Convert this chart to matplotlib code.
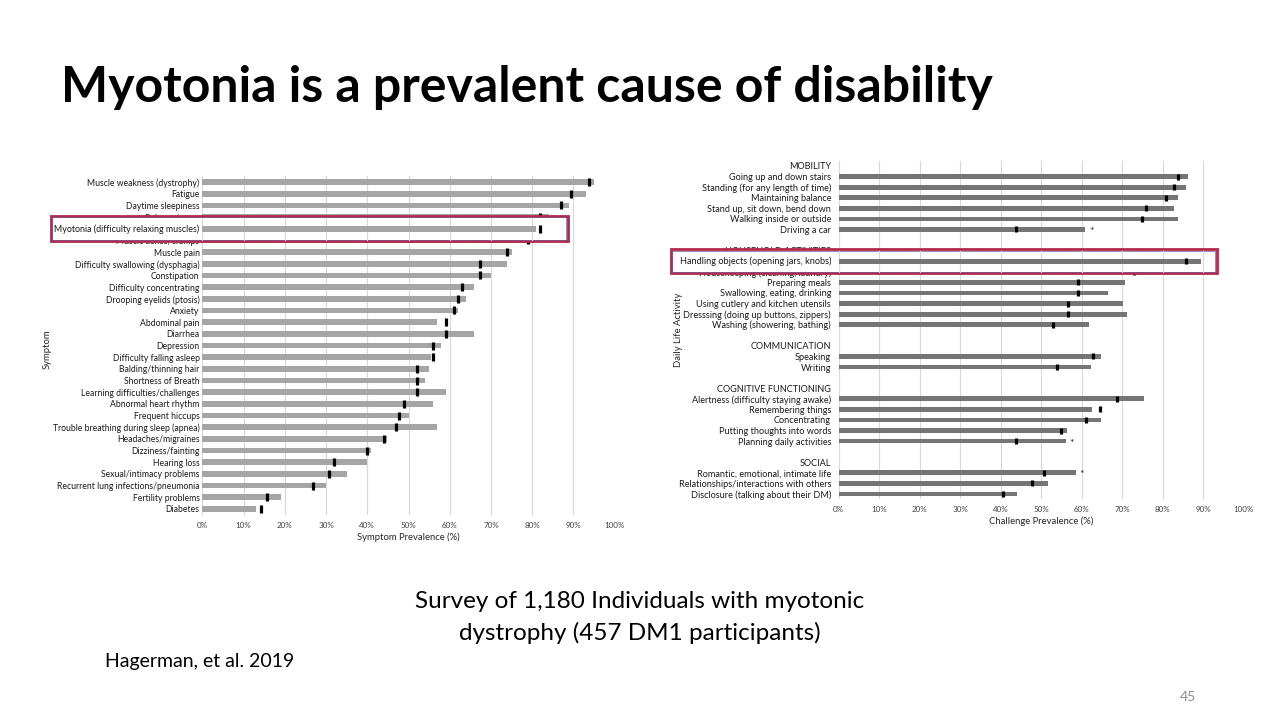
import matplotlib.pyplot as plt
from matplotlib.patches import Rectangle

plt.rcParams['font.family'] = ['Lato', 'DejaVu Sans']

# left chart: symptoms (DM1 bar, black marker)
symptoms = ["Muscle weakness (dystrophy)", "Fatigue", "Daytime sleepiness", "Balance issues",
            "Myotonia (difficulty relaxing muscles)", "Muscle aches, cramps", "Muscle pain",
            "Difficulty swallowing (dysphagia)", "Constipation", "Difficulty concentrating",
            "Drooping eyelids (ptosis)", "Anxiety", "Abdominal pain", "Diarrhea", "Depression",
            "Difficulty falling asleep", "Balding/thinning hair", "Shortness of Breath",
            "Learning difficulties/challenges", "Abnormal heart rhythm", "Frequent hiccups",
            "Trouble breathing during sleep (apnea)", "Headaches/migraines", "Dizziness/fainting",
            "Hearing loss", "Sexual/intimacy problems", "Recurrent lung infections/pneumonia",
            "Fertility problems", "Diabetes"]
sym_bar = [95.0, 93.0, 89.0, 84.0, 81.0, 79.0, 75.1, 74.0, 70.0, 66.0, 64.0, 62.0, 57.0, 66.0,
           58.0, 55.5, 55.0, 54.0, 59.0, 56.0, 50.0, 57.0, 44.9, 41.0, 40.0, 35.0, 29.9, 19.0, 13.0]
sym_mark = [93.8, 89.5, 86.9, 81.9, 81.9, 79.0, 73.8, 67.4, 67.4, 62.9, 62.1, 61.1, 59.0, 59.0,
            56.0, 56.0, 52.0, 52.0, 52.0, 48.9, 47.8, 47.0, 44.1, 40.0, 31.9, 30.8, 26.8, 15.6, 14.2]

# right chart: daily life activities (None = group header row)
activities = ["MOBILITY", "Going up and down stairs", "Standing (for any length of time)",
              "Maintaining balance", "Stand up, sit down, bend down", "Walking inside or outside",
              "Driving a car", "", "HOUSEHOLD ACTIVITIES", "Handling objects (opening jars, knobs)",
              "Housekeeping (cleaning, laundry)", "Preparing meals", "Swallowing, eating, drinking",
              "Using cutlery and kitchen utensils", "Dresssing (doing up buttons, zippers)",
              "Washing (showering, bathing)", "", "COMMUNICATION", "Speaking", "Writing", "",
              "COGNITIVE FUNCTIONING", "Alertness (difficulty staying awake)", "Remembering things",
              "Concentrating", "Putting thoughts into words", "Planning daily activities", "",
              "SOCIAL", "Romantic, emotional, intimate life", "Relationships/interactions with others",
              "Disclosure (talking about their DM)"]
act_bar = [None, 86.2, 85.7, 83.7, 82.9, 83.7, 60.9, None, None, 89.5, 78.6, 70.8, 66.5, 70.3,
           71.3, 61.9, None, None, 64.8, 62.3, None, None, 75.5, 62.6, 64.8, 56.4, 56.1, None,
           None, 58.6, 51.8, 44.1]
act_mark = [None, 83.8, 82.8, 80.8, 75.8, 75.0, 43.7, None, None, 85.7, 72.8, 59.0, 59.0, 56.7,
            56.6, 53.0, None, None, 62.9, 53.9, None, None, 68.7, 64.4, 61.0, 54.9, 43.9, None,
            None, 50.6, 47.7, 40.5]
act_star = ["Driving a car", "Planning daily activities", "Romantic, emotional, intimate life"]

ticks = list(range(0, 101, 10))
tick_labels = [str(t) + "%" for t in ticks]
red = '#B3294B'

fig = plt.figure(figsize=(12.8, 7.2), dpi=100)

fig.text(61/1280, 1 - 87/720, "Myotonia is a prevalent cause of disability", fontsize=36,
         fontweight='bold', va='center', ha='left')
fig.text(0.5, 1 - 601/720, "Survey of 1,180 Individuals with myotonic", fontsize=17.5,
         ha='center', va='center')
fig.text(0.5, 1 - 633/720, "dystrophy (457 DM1 participants)", fontsize=17.5, ha='center', va='center')
fig.text(105/1280, 1 - 662/720, "Hagerman, et al. 2019", fontsize=14, ha='left', va='center')
fig.text(1188/1280, 1 - 697/720, "45", fontsize=10, color='#8C8C8C', ha='center', va='center')


def style(ax, n, labels, fs, pad):
    ax.set_xlim(0, 100)
    ax.set_ylim(n - 0.5, -0.5)
    for s in ax.spines.values():
        s.set_visible(False)
    ax.set_xticks(ticks)
    ax.set_xticklabels(tick_labels, fontsize=5.8, color='#404040')
    ax.set_yticks(range(n))
    ax.set_yticklabels(labels, fontsize=fs, color='#1A1A1A')
    ax.tick_params(length=0)
    ax.tick_params(axis='y', pad=pad)
    ax.tick_params(axis='x', pad=5)
    for t in ticks:
        ax.axvline(t, color='#D9D9D9', lw=0.8, zorder=0)


# ---- left
i = symptoms.index("Myotonia (difficulty relaxing muscles)")
labelsL = [s if k != i else "" for k, s in enumerate(symptoms)]
axL = fig.add_axes([202.3/1280, 1 - 514.8/720, 412.4/1280, 338.6/720])
style(axL, len(symptoms), labelsL, 6.2, 2)
yL = list(range(len(symptoms)))
axL.barh(yL, sym_bar, height=0.48, color='#A5A5A5', zorder=2)
axL.plot(sym_mark, yL, ls='none', marker='|', ms=5.5, mew=2.3, color='black', zorder=3)
axL.set_xlabel("Symptom Prevalence (%)", fontsize=6.8, color='#262626', labelpad=3)
axL.set_ylabel("Symptom", fontsize=6.8, color='#262626')
axL.yaxis.set_label_coords(-0.365, 0.49)

# highlight box over the myotonia row
axL.add_patch(Rectangle((-36.7, i - 1.09), 36.7 + 88.6, 2.18, facecolor='white', edgecolor=red,
                        lw=2.0, clip_on=False, zorder=6))
axL.add_patch(Rectangle((-36.4, i - 0.97), 36.4 + 88.3, 1.94, facecolor='none', edgecolor='#6E5A93',
                        lw=0.5, clip_on=False, zorder=6))
for t in ticks[:9]:
    axL.plot([t, t], [i - 0.95, i + 0.95], color='#D9D9D9', lw=0.8, zorder=6.5)
axL.barh([i], [sym_bar[i]], height=0.48, color='#A5A5A5', zorder=7)
axL.plot([sym_mark[i]], [i], ls='none', marker='|', ms=5.5, mew=2.3, color='black', zorder=8)
axL.text(-0.8, i, symptoms[i], fontsize=6.4, color='#1A1A1A', ha='right', va='center', zorder=8)

# ---- right
j = activities.index("Handling objects (opening jars, knobs)")
labelsR = [s if k != j else "" for k, s in enumerate(activities)]
axR = fig.add_axes([838.7/1280, 1 - 499.3/720, 405/1280, 338.6/720])
style(axR, len(activities), labelsR, 6.6, 5.5)
yR = [k for k in range(len(activities)) if act_bar[k] is not None]
axR.barh(yR, [act_bar[k] for k in yR], height=0.45, color='#757575', zorder=2)
axR.plot([act_mark[k] for k in yR], yR, ls='none', marker='|', ms=5, mew=2.3, color='black', zorder=3)
for name in act_star:
    k = activities.index(name)
    axR.text(act_bar[k] + 0.9, k + 0.2, "*", fontsize=7.5, ha='left', va='center', color='#262626')
axR.set_xlabel("Challenge Prevalence (%)", fontsize=6.8, color='#262626', labelpad=2)
axR.set_ylabel("Daily Life Activity", fontsize=6.8, color='#262626')
axR.yaxis.set_label_coords(-0.385, 0.5)

# highlight box over the handling objects row
axR.add_patch(Rectangle((-41.4, j - 1.13), 41.4 + 93.3, 2.26, facecolor='white', edgecolor=red,
                        lw=2.0, clip_on=False, zorder=6))
axR.add_patch(Rectangle((-41.1, j - 1.0), 41.1 + 93.0, 2.0, facecolor='none', edgecolor='#6E5A93',
                        lw=0.5, clip_on=False, zorder=6))
for t in ticks[:10]:
    axR.plot([t, t], [j - 0.98, j + 0.98], color='#D9D9D9', lw=0.8, zorder=6.5)
axR.barh([j], [act_bar[j]], height=0.45, color='#757575', zorder=7)
axR.plot([act_mark[j]], [j], ls='none', marker='|', ms=5, mew=2.3, color='black', zorder=8)
axR.text(-1.9, j, activities[j], fontsize=6.6, color='#1A1A1A', ha='right', va='center', zorder=8)

fig.savefig("out.png", dpi=100)
